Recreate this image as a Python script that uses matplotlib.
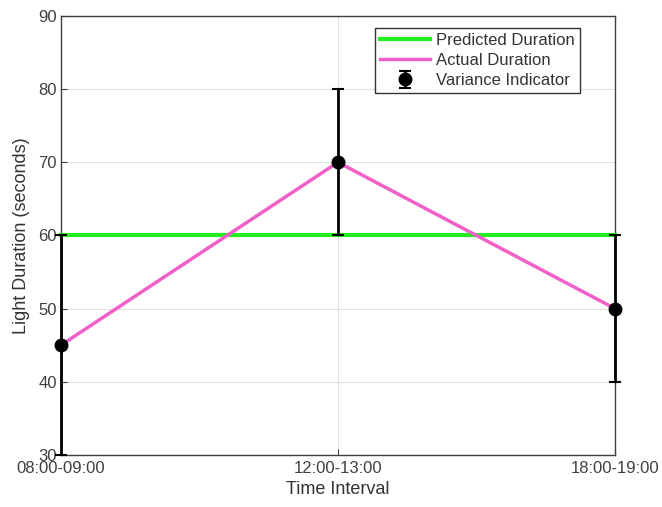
import matplotlib
matplotlib.use("Agg")
import matplotlib.pyplot as plt
import numpy as np

categories = ["08:00-09:00", "12:00-13:00", "18:00-19:00"]
predicted = [60, 60, 60]
actual = [45, 70, 50]
variance = [15, 10, 10]

plt.rcParams['font.family'] = ['Liberation Sans', 'DejaVu Sans']

fig = plt.figure(figsize=(6.62, 5.07), dpi=100)
ax = fig.add_axes([0.092, 0.1026, 0.837, 0.866])

x = np.arange(len(categories))
ax.plot(x, predicted, color='#22EE22', lw=3, label='Predicted Duration', zorder=3, clip_on=False)
ax.plot(x, actual, color='#F060C8', lw=2.5, label='Actual Duration', zorder=4, clip_on=False)
eb = ax.errorbar(x, actual, yerr=variance, fmt='o', color='black', ecolor='black',
                 markersize=9, elinewidth=2, capsize=4, capthick=1.5,
                 label='Variance Indicator', zorder=5, clip_on=False)
for art in eb.lines[1] + eb.lines[2]:
    art.set_clip_on(False)

ax.set_xlim(0, 2)
ax.set_ylim(30, 90)
ax.set_xticks(x)
ax.set_xticklabels(categories)
ax.set_yticks(np.arange(30, 91, 10))
ax.grid(True, color='#E0E0E0', lw=0.8)
ax.set_axisbelow(True)
ax.tick_params(direction='in', length=4, colors='#404040', labelsize=12, pad=3)
ax.tick_params(axis='x', pad=4)
for s in ax.spines.values():
    s.set_color('#404040')
    s.set_linewidth(1.0)

ax.set_xlabel('Time Interval', fontsize=13, color='#333333', labelpad=4)
ax.set_ylabel('Light Duration (seconds)', fontsize=13, color='#333333', labelpad=6)

leg = ax.legend(loc='upper right', fontsize=12, fancybox=False, edgecolor='#333333',
                framealpha=1, borderpad=0.3, labelspacing=0.3, handlelength=3.0,
                handletextpad=0.35, bbox_to_anchor=(0.951, 0.991))
leg.get_frame().set_linewidth(1.0)
for t in leg.get_texts():
    t.set_color('#333333')

fig.savefig('out.png', dpi=100)
